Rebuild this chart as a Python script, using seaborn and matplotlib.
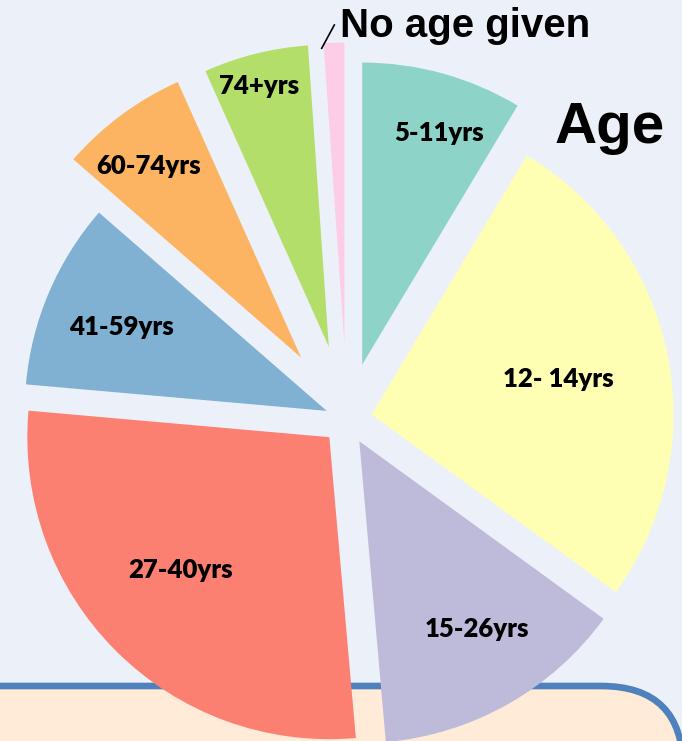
import matplotlib.pyplot as plt
import seaborn as sns
from matplotlib.patches import FancyBboxPatch

# Age groups, clockwise from 12 o'clock, share in percent
groups = ["5-11yrs", "12- 14yrs", "15-26yrs", "27-40yrs",
          "41-59yrs", "60-74yrs", "74+yrs", "No age given"]
share = [8.6, 26.4, 13.6, 27.8, 10.0, 6.9, 5.6, 1.1]

W, H = 682, 741
bg = "#ECF1F9"

fig = plt.figure(figsize=(W / 100, H / 100), dpi=100, facecolor=bg)
ax = fig.add_axes([0, 0, 1, 1])

# pie geometry in pixel units (y measured upwards)
cx, cy, R = 347, H - 419.5, 302
explode = [57, 25, 25, 25, 22, 77, 75, 75]

# peach panel at the bottom, sits behind the pie
box = FancyBboxPatch((-100, -300), 783, 355,
                     boxstyle="round,pad=0,rounding_size=82",
                     fc="#FFEBD8", ec="#4F81BD", lw=4.8, zorder=1)
ax.add_patch(box)

colors = sns.color_palette("Set3", 8)
wedges, _ = ax.pie(share, colors=colors, explode=explode, startangle=90,
                   counterclock=False, center=(cx, cy), radius=R,
                   wedgeprops=dict(linewidth=0, zorder=2))

ax.set_xlim(0, W)
ax.set_ylim(0, H)
ax.set_aspect("equal")
ax.axis("off")

# wedge labels (x centre, baseline y in pixels from top)
label_pos = [(439, 141), (558, 387), (477, 637), (181, 578),
             (121, 335), (149, 174), (259, 94)]
for name, (x, y) in zip(groups[:-1], label_pos):
    ax.text(x, H - y, name, ha="center", va="baseline", fontsize=18.5,
            fontweight="heavy", family=["Lato", "DejaVu Sans"], zorder=3)

# small slice gets an outside label with a leader line
ax.text(340, H - 37, groups[-1], ha="left", va="baseline", fontsize=29,
        fontweight="bold", family=["Liberation Sans", "DejaVu Sans"], zorder=3)
ax.plot([321.7, 334.3], [H - 48.3, H - 25], color="black", lw=1.2, zorder=3)

ax.text(555, H - 143, "Age", ha="left", va="baseline", fontsize=42,
        fontweight="bold", family=["Liberation Sans", "DejaVu Sans"], zorder=3)

fig.savefig("out.png", dpi=100, facecolor=bg)
